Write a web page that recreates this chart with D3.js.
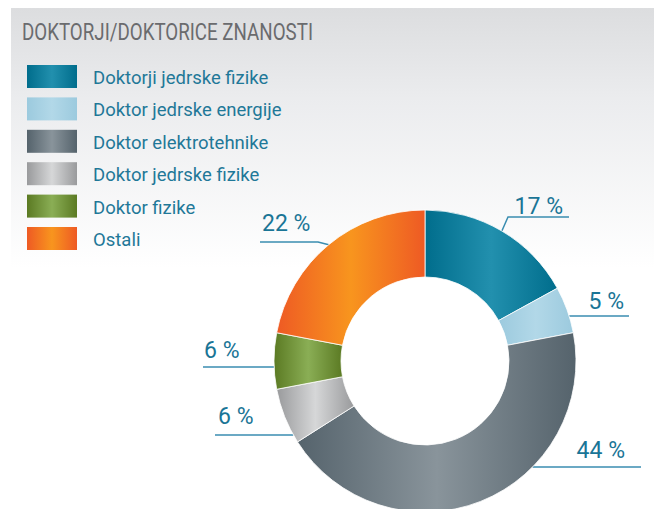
<!DOCTYPE html>
<html>
<head>
<meta charset="utf-8">
<script src="https://cdn.jsdelivr.net/npm/d3@7"></script>
<style>
  body { margin: 0; background: #fff; }
  text { font-family: Roboto, "Noto Sans", sans-serif; }
</style>
</head>
<body>
<script>
// podatki
const title = 'DOKTORJI/DOKTORICE ZNANOSTI';
const categories = ['Doktorji jedrske fizike', 'Doktor jedrske energije', 'Doktor elektrotehnike',
  'Doktor jedrske fizike', 'Doktor fizike', 'Ostali'];
const values = [17, 5, 44, 6, 6, 22];
const valueLabels = ['17 %', '5 %', '44 %', '6 %', '6 %', '22 %'];

// barve: rob in sredina gradienta
const edgeColors = ['#006d8c', '#9ccade', '#55636c', '#999a9c', '#5b7a23', '#ee5a24'];
const midColors = ['#2290ae', '#b2d8e8', '#89949b', '#d6d7d8', '#8aae55', '#f8951e'];

const width = 656, height = 509;
const cx = 425, cy = 361, rOuter = 151, rInner = 84;

// postavitev oznak (črta in besedilo)
const labelLayout = [
  { lineY: 217, elbowX: 508, endX: 569, textX: 563, dy: -3, anchor: 'end' },
  { lineY: 316, endX: 629, textX: 624, dy: -7, anchor: 'end' },
  { lineY: 467, endX: 641, textX: 625, dy: -9, anchor: 'end' },
  { lineY: 435, endX: 215, textX: 218, dy: -11, anchor: 'start' },
  { lineY: 367, endX: 203, textX: 204, dy: -9, anchor: 'start' },
  { lineY: 242, elbowX: 318, endX: 260, textX: 262, dy: -11, anchor: 'start' },
];

const svg = d3.select('body').append('svg')
  .attr('width', width).attr('height', height);

const defs = svg.append('defs');

// ozadje
const bg = defs.append('linearGradient').attr('id', 'bg')
  .attr('x1', 0).attr('y1', 0).attr('x2', 0).attr('y2', 1);
bg.append('stop').attr('offset', 0).attr('stop-color', '#dcdddf');
bg.append('stop').attr('offset', 0.18).attr('stop-color', '#ebecee');
bg.append('stop').attr('offset', 0.52).attr('stop-color', '#ffffff');
bg.append('stop').attr('offset', 1).attr('stop-color', '#ffffff');

svg.append('rect').attr('x', 11).attr('y', 8).attr('width', 643).attr('height', 501)
  .attr('fill', 'url(#bg)');

// gradienti za rezine
categories.forEach((c, i) => {
  const g = defs.append('linearGradient').attr('id', 'g' + i)
    .attr('x1', 0).attr('y1', 0).attr('x2', 1).attr('y2', 0);
  g.append('stop').attr('offset', 0).attr('stop-color', edgeColors[i]);
  g.append('stop').attr('offset', 0.5).attr('stop-color', midColors[i]);
  g.append('stop').attr('offset', 1).attr('stop-color', edgeColors[i]);
});

// naslov
svg.append('text')
  .attr('x', 22).attr('y', 40)
  .attr('font-size', 24.5)
  .attr('fill', '#6a6b6e')
  .attr('textLength', 291)
  .attr('lengthAdjust', 'spacingAndGlyphs')
  .text(title);

// legenda
const legendY = d3.scalePoint().domain(d3.range(categories.length)).range([65, 227]);
const legend = svg.append('g').selectAll('g')
  .data(categories)
  .join('g')
  .attr('transform', (d, i) => `translate(27, ${legendY(i)})`);

legend.append('rect')
  .attr('width', 50).attr('height', 23)
  .attr('fill', (d, i) => `url(#g${i})`);

legend.append('text')
  .attr('x', 66).attr('y', 19)
  .attr('font-size', 18.5)
  .attr('fill', '#1f7898')
  .text(d => d);

// kolobar
const pie = d3.pie().sort(null).value(d => d)(values);
const arc = d3.arc().innerRadius(rInner).outerRadius(rOuter);
const outerArc = d3.arc().innerRadius(rOuter).outerRadius(rOuter);

const chart = svg.append('g').attr('transform', `translate(${cx}, ${cy})`);

// črte do oznak
const leaders = chart.append('g');
pie.forEach((p, i) => {
  const L = labelLayout[i];
  const ly = L.lineY - cy;
  const side = L.anchor === 'end' ? 1 : -1;
  let pts;
  if (L.elbowX !== undefined) {
    const s = outerArc.centroid(p);
    pts = [s, [L.elbowX - cx, ly], [L.endX - cx, ly]];
  } else {
    const sx = side * Math.sqrt(rOuter * rOuter - ly * ly);
    pts = [[sx, ly], [L.endX - cx, ly]];
  }
  leaders.append('path')
    .attr('d', d3.line()(pts))
    .attr('fill', 'none')
    .attr('stroke', '#3a8db0')
    .attr('stroke-width', 1.5);
  svg.append('text')
    .attr('x', L.textX)
    .attr('y', L.lineY + L.dy)
    .attr('text-anchor', L.anchor)
    .attr('font-size', 23)
    .attr('fill', '#1a7596')
    .text(valueLabels[i]);
});

chart.append('g').selectAll('path')
  .data(pie)
  .join('path')
  .attr('d', arc)
  .attr('fill', (d, i) => `url(#g${i})`)
  .attr('stroke', '#ffffff')
  .attr('stroke-width', 0.8);
</script>
</body>
</html>
